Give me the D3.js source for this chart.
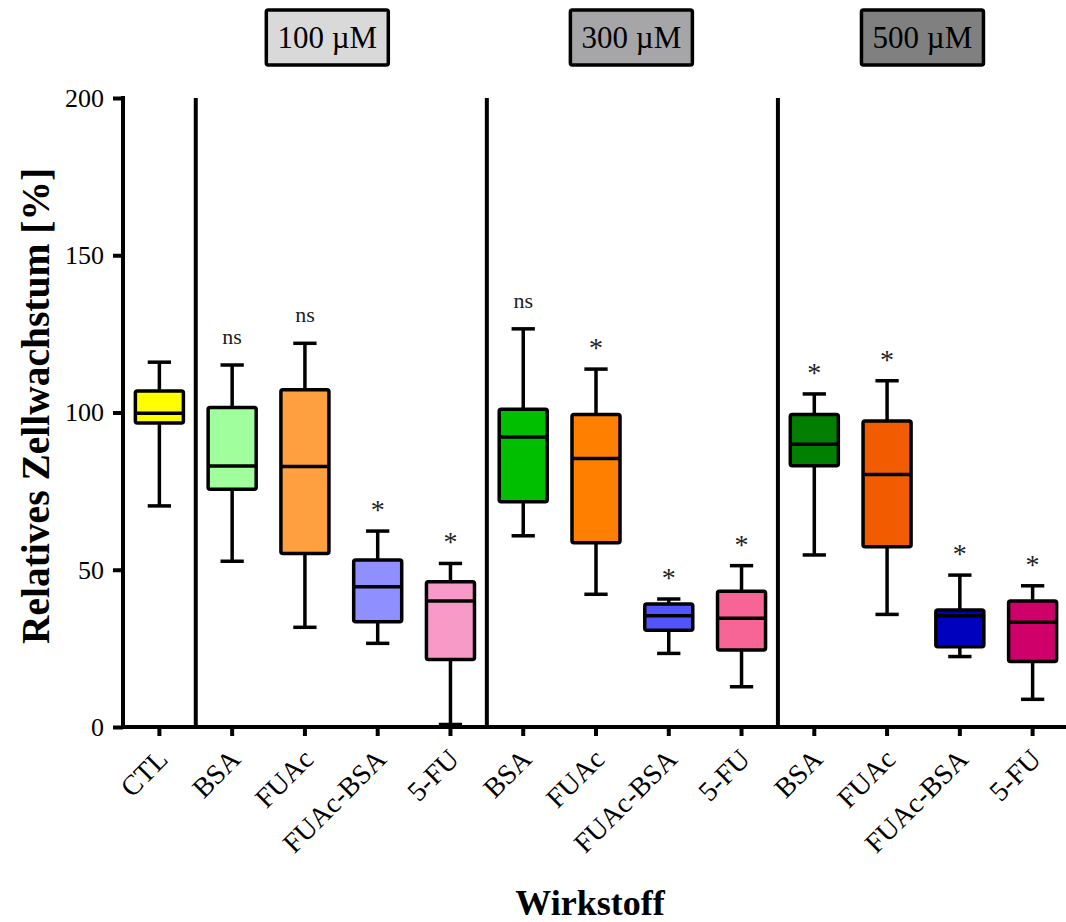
<!DOCTYPE html>
<html><head><meta charset="utf-8">
<script src="https://cdn.jsdelivr.net/npm/d3@7"></script>
<style>body{margin:0;background:#fff}svg{display:block}</style></head>
<body><svg id="chart" width="1066" height="922"></svg>
<script>
const categories = ["CTL","BSA","FUAc","FUAc-BSA","5-FU","BSA","FUAc","FUAc-BSA","5-FU","BSA","FUAc","FUAc-BSA","5-FU"];
const groupOf = [null,0,0,0,0,1,1,1,1,2,2,2,2];
const whiskerLow  = [70.3, 52.7, 31.7, 26.6, 0.8, 60.8, 42.2, 23.4, 12.8, 54.7, 35.8, 22.4, 8.8];
const q1          = [96.7, 75.6, 55.2, 33.5, 21.5, 71.6, 58.6, 30.8, 24.5, 83.1, 57.3, 25.5, 20.8];
const median      = [99.8, 83.0, 82.8, 44.6, 40.1, 92.2, 85.4, 35.4, 34.6, 89.9, 80.3, 35.4, 33.3];
const q3          = [106.8, 101.6, 107.2, 53.1, 46.2, 101.0, 99.4, 39.1, 43.2, 99.4, 97.3, 37.2, 40.1];
const whiskerHigh = [116.0, 115.1, 122.0, 62.3, 52.0, 126.6, 113.8, 40.7, 51.3, 105.9, 110.1, 48.3, 44.9];
const significance = ["", "ns", "ns", "*", "*", "ns", "*", "*", "*", "*", "*", "*", "*"];
const boxColors = ["#ffff00","#a0ff9c","#ffa040","#8f8fff","#f79ac8","#00bf00","#ff8000","#5454ff","#f76496","#007f00","#f25c00","#0000bf","#d0006a"];
const concentrationLabels = ["100 µM","300 µM","500 µM"];
const concentrationFills = ["#d9d9d9","#a6a6a8","#808080"];
const yTicks = [0, 50, 100, 150, 200];
const yTitle = "Relatives Zellwachstum [%]";
const xTitle = "Wirkstoff";

(function () {
const svg = d3.select("#chart");
const font = "'Liberation Serif','Times New Roman',serif";
const pLeft = 123, pRight = 1069, pTop = 98, pBottom = 727;

const x = d3.scaleBand().domain(d3.range(categories.length)).range([pLeft, pRight]).paddingInner(0).paddingOuter(0);
const y = d3.scaleLinear().domain([0, 200]).range([pBottom, pTop]);
const bw = x.bandwidth();
const boxW = bw * 0.66, capW = bw * 0.32;

// separators between concentration groups
const sepIdx = [1, 5, 9];
svg.append("g").selectAll("line").data(sepIdx).join("line")
  .attr("x1", d => x(d)).attr("x2", d => x(d))
  .attr("y1", y(200)).attr("y2", y(0))
  .attr("stroke", "#000").attr("stroke-width", 4);

// axes
const yAxis = svg.append("g").attr("transform", `translate(${pLeft},0)`)
  .call(d3.axisLeft(y).tickValues(yTicks).tickSize(10).tickSizeOuter(0).tickPadding(9));
yAxis.select(".domain").attr("stroke-width", 4).attr("d", `M0,${y(200)-2}V${y(0)+2}`);
yAxis.selectAll(".tick line").attr("stroke-width", 4);
yAxis.selectAll(".tick text").attr("font-family", font).attr("font-size", 26).attr("fill", "#000");

const xAxis = svg.append("g").attr("transform", `translate(0,${pBottom})`)
  .call(d3.axisBottom(x).tickFormat(i => categories[i]).tickSize(9).tickSizeOuter(0));
xAxis.select(".domain").attr("stroke-width", 4).attr("d", `M${pLeft-2},0H${pRight}`);
xAxis.selectAll(".tick line").attr("stroke-width", 4);
xAxis.selectAll(".tick text")
  .attr("font-family", font).attr("font-size", 28).attr("fill", "#000")
  .attr("text-anchor", "end").attr("dy", null).attr("y", 0)
  .attr("transform", "translate(10,34) rotate(-45)");

// boxes
const boxes = svg.append("g").selectAll("g").data(d3.range(categories.length)).join("g")
  .attr("transform", i => `translate(${x(i) + bw / 2},0)`);
boxes.append("line").attr("x1", 0).attr("x2", 0)
  .attr("y1", i => y(whiskerHigh[i])).attr("y2", i => y(whiskerLow[i]))
  .attr("stroke", "#000").attr("stroke-width", 3.5);
boxes.append("line").attr("x1", -capW / 2).attr("x2", capW / 2)
  .attr("y1", i => y(whiskerHigh[i])).attr("y2", i => y(whiskerHigh[i]))
  .attr("stroke", "#000").attr("stroke-width", 3.5);
boxes.append("line").attr("x1", -capW / 2).attr("x2", capW / 2)
  .attr("y1", i => y(whiskerLow[i])).attr("y2", i => y(whiskerLow[i]))
  .attr("stroke", "#000").attr("stroke-width", 3.5);
boxes.append("rect").attr("x", -boxW / 2).attr("width", boxW)
  .attr("y", i => y(q3[i])).attr("height", i => y(q1[i]) - y(q3[i]))
  .attr("rx", 2).attr("fill", i => boxColors[i]).attr("stroke", "#000").attr("stroke-width", 3.5);
boxes.append("line").attr("x1", -boxW / 2).attr("x2", boxW / 2)
  .attr("y1", i => y(median[i])).attr("y2", i => y(median[i]))
  .attr("stroke", "#000").attr("stroke-width", 3.5);
boxes.append("text")
  .attr("x", 0).attr("y", i => y(whiskerHigh[i]) - (significance[i] === "*" ? 12 : 21))
  .attr("text-anchor", "middle").attr("font-family", font)
  .attr("font-size", i => significance[i] === "*" ? 28 : 22).attr("fill", "#222")
  .text(i => significance[i]);

// concentration header boxes
const hdrOffset = [-14, -1, -1];
const hdr = svg.append("g").selectAll("g").data(concentrationLabels).join("g")
  .attr("transform", (d, k) => {
    const idx = d3.range(categories.length).filter(i => groupOf[i] === k);
    const cx = d3.mean(idx, i => x(i) + bw / 2) + hdrOffset[k];
    return `translate(${cx},37)`;
  });
hdr.append("rect").attr("x", -61).attr("y", -27).attr("width", 122).attr("height", 55).attr("rx", 2)
  .attr("fill", (d, k) => concentrationFills[k]).attr("stroke", "#000").attr("stroke-width", 3.5);
hdr.append("text").attr("text-anchor", "middle").attr("dy", "0.35em")
  .attr("font-family", font).attr("font-size", 31).attr("fill", "#000").text(d => d);

// titles
svg.append("text").attr("transform", `translate(49,406) rotate(-90)`)
  .attr("text-anchor", "middle").attr("font-family", font).attr("font-weight", "bold")
  .attr("font-size", 39.5).attr("fill", "#000").text(yTitle);
svg.append("text").attr("x", 590).attr("y", 915)
  .attr("text-anchor", "middle").attr("font-family", font).attr("font-weight", "bold")
  .attr("font-size", 36).attr("fill", "#000").text(xTitle);
})();
</script></body></html>
